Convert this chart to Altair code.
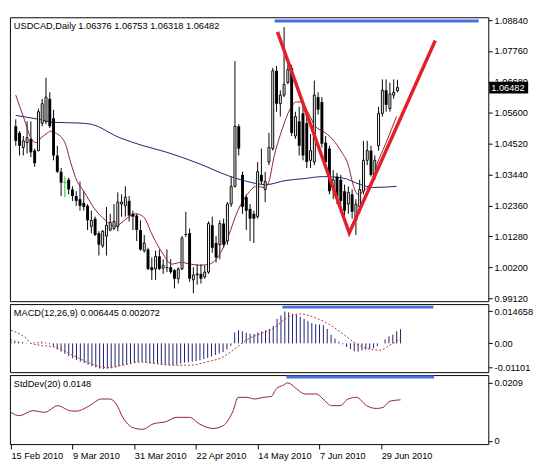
import json
import altair as alt
import pandas as pd

# ---------------- data ----------------
date_idx = [0, 16, 32, 48, 64, 80, 96]
date_labels = ["15 Feb 2010", "9 Mar 2010", "31 Mar 2010", "22 Apr 2010",
               "14 May 2010", "7 Jun 2010", "29 Jun 2010"]

opens = [1.0513, 1.0490, 1.0439, 1.0456, 1.0469, 1.0428, 1.0428, 1.0524, 1.0530, 1.0609,
         1.0541, 1.0411, 1.0354, 1.0316, 1.0326, 1.0292, 1.0269, 1.0258, 1.0245, 1.0235,
         1.0163, 1.0190, 1.0139, 1.0095, 1.0129, 1.0150, 1.0156, 1.0163, 1.0241, 1.0235,
         1.0252, 1.0207, 1.0201, 1.0150, 1.0078, 1.0082, 1.0020, 1.0014, 1.0058, 1.0017,
         1.0020, 1.0020, 1.0010, 0.9980, 1.0014, 1.0136, 1.0139, 0.9976, 0.9993, 0.9997,
         0.9986, 1.0003, 1.0167, 1.0105, 1.0099, 1.0173, 1.0112, 1.0241, 1.0303, 1.0513,
         1.0343, 1.0265, 1.0224, 1.0207, 1.0197, 1.0343, 1.0292, 1.0388, 1.0435, 1.0707,
         1.0592, 1.0622, 1.0666, 1.0717, 1.0479, 1.0530, 1.0558, 1.0524, 1.0394, 1.0388,
         1.0615, 1.0598, 1.0456, 1.0435, 1.0299, 1.0337, 1.0326, 1.0286, 1.0241, 1.0275,
         1.0184, 1.0231, 1.0286, 1.0394, 1.0428, 1.0343, 1.0445, 1.0558, 1.0639, 1.0575,
         1.0622, 1.06376]
highs = [1.0537, 1.0496, 1.0479, 1.0530, 1.0530, 1.0435, 1.0575, 1.0609, 1.0683, 1.0632,
         1.0571, 1.0445, 1.0367, 1.0337, 1.0333, 1.0303, 1.0286, 1.0320, 1.0286, 1.0241,
         1.0218, 1.0197, 1.0146, 1.0150, 1.0231, 1.0207, 1.0241, 1.0282, 1.0275, 1.0303,
         1.0269, 1.0218, 1.0207, 1.0184, 1.0133, 1.0088, 1.0054, 1.0078, 1.0082, 1.0048,
         1.0082, 1.0048, 1.0014, 1.0020, 1.0129, 1.0214, 1.0156, 1.0020, 1.0031, 1.0031,
         1.0027, 1.0180, 1.0197, 1.0129, 1.0184, 1.0190, 1.0248, 1.0337, 1.0741, 1.0520,
         1.0354, 1.0275, 1.0241, 1.0218, 1.0388, 1.0435, 1.0354, 1.0490, 1.0717, 1.0724,
         1.0639, 1.0860, 1.0728, 1.0728, 1.0564, 1.0581, 1.0598, 1.0547, 1.0486, 1.0673,
         1.0632, 1.0615, 1.0479, 1.0445, 1.0360, 1.0350, 1.0343, 1.0309, 1.0303, 1.0292,
         1.0258, 1.0326, 1.0462, 1.0462, 1.0445, 1.0411, 1.0581, 1.0677, 1.0677, 1.0666,
         1.0677, 1.06753]
lows = [1.0445, 1.0411, 1.0411, 1.0418, 1.0405, 1.0371, 1.0425, 1.0513, 1.0520, 1.0507,
        1.0394, 1.0350, 1.0269, 1.0265, 1.0275, 1.0252, 1.0235, 1.0218, 1.0218, 1.0150,
        1.0139, 1.0129, 1.0061, 1.0088, 1.0061, 1.0146, 1.0150, 1.0146, 1.0197, 1.0197,
        1.0180, 1.0150, 1.0112, 1.0078, 1.0071, 1.0010, 0.9976, 0.9976, 1.0010, 0.9997,
        1.0003, 0.9997, 0.9946, 0.9963, 1.0010, 1.0126, 0.9969, 0.9929, 0.9959, 0.9963,
        0.9980, 0.9997, 1.0071, 1.0037, 1.0048, 1.0088, 1.0099, 1.0231, 1.0299, 1.0411,
        1.0207, 1.0150, 1.0112, 1.0105, 1.0190, 1.0309, 1.0248, 1.0377, 1.0428, 1.0564,
        1.0547, 1.0615, 1.0660, 1.0479, 1.0469, 1.0411, 1.0394, 1.0367, 1.0367, 1.0377,
        1.0554, 1.0439, 1.0360, 1.0275, 1.0258, 1.0241, 1.0224, 1.0201, 1.0207, 1.0190,
        1.0133, 1.0207, 1.0275, 1.0377, 1.0337, 1.0326, 1.0428, 1.0547, 1.0564, 1.0564,
        1.0609, 1.06318]
closes = [1.0462, 1.0445, 1.0462, 1.0473, 1.0422, 1.0384, 1.0564, 1.0592, 1.0615, 1.0513,
          1.0411, 1.0354, 1.0316, 1.0316, 1.0292, 1.0269, 1.0252, 1.0235, 1.0231, 1.0184,
          1.0184, 1.0133, 1.0099, 1.0146, 1.0167, 1.0177, 1.0180, 1.0248, 1.0248, 1.0265,
          1.0201, 1.0197, 1.0150, 1.0082, 1.0105, 1.0014, 1.0010, 1.0058, 1.0014, 1.0027,
          1.0017, 1.0003, 0.9980, 1.0014, 1.0122, 1.0133, 0.9980, 0.9993, 0.9997, 0.9980,
          1.0003, 1.0173, 1.0088, 1.0054, 1.0173, 1.0099, 1.0241, 1.0303, 1.0513, 1.0435,
          1.0231, 1.0218, 1.0190, 1.0190, 1.0354, 1.0320, 1.0320, 1.0439, 1.0707, 1.0592,
          1.0622, 1.0660, 1.0711, 1.0490, 1.0547, 1.0445, 1.0411, 1.0388, 1.0428, 1.0622,
          1.0571, 1.0452, 1.0388, 1.0286, 1.0326, 1.0265, 1.0252, 1.0218, 1.0282, 1.0214,
          1.0241, 1.0292, 1.0394, 1.0428, 1.0343, 1.0394, 1.0558, 1.0639, 1.0588, 1.0626,
          1.0632, 1.06482]

# moving averages
red_ma_i = [0, 2, 4.5, 5.5, 6.75, 8, 9.25, 10.5, 13, 14.5, 16.25, 18, 20.5, 23.75, 26.25,
            28.75, 30.5, 31.75, 33.75, 36.25, 38.75, 41.25, 43.75, 46.25, 48.75, 51.25,
            53.75, 56.25, 58.75, 61.25, 63.75, 65.75, 67, 68.25, 70.5, 72.5, 74.25, 75.5,
            77.5, 79.25, 81.25, 83.75, 86.25, 88, 89.25, 90.5, 92, 94.25, 95.5, 98, 100.75]
red_ma_v = [1.0622, 1.0547, 1.0462, 1.0456, 1.0473, 1.0486, 1.0496, 1.0490, 1.0456, 1.0388,
            1.0320, 1.0286, 1.0231, 1.0184, 1.0163, 1.0184, 1.0201, 1.0207, 1.0197, 1.0129,
            1.0071, 1.0031, 1.0037, 1.0031, 1.0027, 1.0031, 1.0061, 1.0129, 1.0218, 1.0275,
            1.0303, 1.0299, 1.0320, 1.0401, 1.0503, 1.0571, 1.0598, 1.0598, 1.0558, 1.0513,
            1.0496, 1.0469, 1.0422, 1.0377, 1.0309, 1.0275, 1.0286, 1.0326, 1.0377, 1.0456,
            1.0547]
blue_ma_i = [0, 6.25, 10, 17.5, 20, 27.5, 33.75, 40, 48.75, 56.25, 61.25, 66.25, 71.25,
             76.25, 81.25, 86.25, 91.25, 94.5, 100.75]
blue_ma_v = [1.0551, 1.0537, 1.0527, 1.0524, 1.0520, 1.0473, 1.0445, 1.0422, 1.0381, 1.0340,
             1.0320, 1.0309, 1.0323, 1.0330, 1.0337, 1.0333, 1.0309, 1.0299, 1.0303]

# MACD histogram (one per bar) and signal samples
macd = [0.0020, 0.0013, 0.0009, 0.0006, 0.0002, -0.0002, 0.0004, 0.0006, 0.0008, 0.0004,
        -0.0004, -0.0014, -0.0028, -0.0038, -0.0048, -0.0058, -0.0068, -0.0076, -0.0083, -0.0090,
        -0.0098, -0.0105, -0.0110, -0.0115, -0.0117, -0.0116, -0.0114, -0.0110, -0.0105, -0.0100,
        -0.0095, -0.0091, -0.0088, -0.0085, -0.0084, -0.0087, -0.0090, -0.0092, -0.0094, -0.0096,
        -0.0098, -0.0099, -0.0100, -0.0097, -0.0092, -0.0088, -0.0086, -0.0084, -0.0081, -0.0077,
        -0.0072, -0.0066, -0.0060, -0.0053, -0.0046, -0.0039, -0.0028, -0.0012, 0.0050, 0.0060,
        0.0055, 0.0048, 0.0044, 0.0043, 0.0050, 0.0055, 0.0060, 0.0066, 0.0080, 0.0112,
        0.0128, 0.0146, 0.0142, 0.0135, 0.0130, 0.0122, 0.0112, 0.0102, 0.0093, 0.0088,
        0.0086, 0.0083, 0.0066, 0.0040, 0.0022, 0.0008, -0.0004, -0.0016, -0.0026, -0.0036,
        -0.0038, -0.0032, -0.0028, -0.0026, -0.0022, -0.0012, 0.0000, 0.0018, 0.0032, 0.0040,
        0.0055, 0.006445]
sig_i = [0, 2.2, 4, 5.2, 7.4, 11.7, 16, 20.4, 24.7, 29, 33.4, 37.7, 42, 46.3, 50.7, 55, 57.6,
         61, 64.5, 68, 71.4, 74.9, 79.2, 82.7, 86.1, 88.7, 92.2, 95.6, 98.2, 101]
sig_v = [0.0061, 0.0043, 0.0023, 0.0000, -0.0008, -0.0019, -0.0054, -0.0090, -0.0111, -0.0100,
         -0.0085, -0.0093, -0.0100, -0.0100, -0.0085, -0.0062, -0.0031, 0.0015, 0.0043, 0.0069,
         0.0115, 0.0135, 0.0115, 0.0085, 0.0043, 0.0008, -0.0023, -0.0031, -0.0008, 0.002072]

# StdDev(20) samples
sd_i = [0, 2.2, 5.7, 8.7, 12.2, 15.2, 16.9, 20.4, 23.4, 25.6, 27.3, 29, 31.6, 34.2, 36.8,
        40.3, 42.9, 46.3, 48.9, 52.4, 55, 57.6, 58.9, 61, 63.2, 65.4, 67.5, 68.8, 70.5, 71.8,
        74, 76.2, 79.2, 80.9, 83.1, 85.3, 87.4, 89.6, 92.2, 94.8, 96.5, 98.2, 101]
sd_v = [0.0103, 0.0091, 0.0109, 0.0103, 0.0127, 0.0109, 0.0107, 0.0127, 0.0151, 0.0151,
        0.0133, 0.0085, 0.0048, 0.0042, 0.0061, 0.0070, 0.0085, 0.0085, 0.0061, 0.0045,
        0.0055, 0.0109, 0.0157, 0.0157, 0.0151, 0.0157, 0.0160, 0.0188, 0.0200, 0.0209,
        0.0188, 0.0169, 0.0169, 0.0151, 0.0127, 0.0127, 0.0151, 0.0157, 0.0127, 0.0117,
        0.0121, 0.0143, 0.0148]

# hand-drawn annotations (in bar index / value units)
v_i = [69.25, 88.25, 111.0]
v_p = [1.0843, 1.0140, 1.0813]
top_line = {"a": [68.5], "b": [122.5], "v": [1.0881]}
macd_line = {"a": [70.4], "b": [109.5], "v": [0.0166]}
sd_line = {"a": [71.4], "b": [109.7], "v": [0.0230]}

price_ticks = [0.99120, 1.00200, 1.01280, 1.02360, 1.03440, 1.04520,
               1.05600, 1.06680, 1.07760, 1.08840]
macd_ticks = [0.014658, 0.0, -0.01101]
macd_tick_labels = ["0.014658", "0.00", "-0.01101"]
sd_ticks = [0.0209, 0.0]
sd_tick_labels = ["0.0209", "0"]

symbol = "USDCAD,Daily"
macd_title = "MACD(12,26,9) 0.006445 0.002072"
sd_title = "StdDev(20) 0.0148"

# ---------------- styling ----------------
FONT = "Liberation Sans"
FS = 9.5
W = 492
H_MAIN, H_MACD, H_SD = 292, 70, 71
NAVY = "#1c1c6e"
MAROON = "#8e1f2a"
RED = "#e3202a"
BLUE = "#4a6ee0"
GREEN = "#1fbf1f"

n = len(opens)
idx = list(range(n))
bars = pd.DataFrame({"i": idx, "o": opens, "h": highs, "l": lows, "c": closes})
bars["kind"] = ["up" if c > o else ("down" if c < o else "doji") for o, c in zip(opens, closes)]

xscale = alt.Scale(domain=[-0.25, 123.75], nice=False, zero=False)


def X(field="i", axis=None):
    return alt.X(f"{field}:Q", scale=xscale, axis=axis, title=None)


price_scale = alt.Scale(domain=[0.99014, 1.08942], nice=False, zero=False)
price_axis = alt.Axis(orient="right", values=price_ticks, format=".5f", tickSize=4,
                      labelPadding=2, grid=False, domain=False, title=None)


def PY(field):
    return alt.Y(f"{field}:Q", scale=price_scale, axis=price_axis, title=None)


base = alt.Chart(bars)
wicks = base.transform_filter("datum.kind != 'doji'").mark_rule(
    color="black", strokeWidth=1).encode(x=X(), y=PY("l"), y2="h:Q")
doji_wicks = base.transform_filter("datum.kind == 'doji'").mark_rule(
    color=GREEN, strokeWidth=1).encode(x=X(), y=PY("l"), y2="h:Q")
doji_body = base.transform_filter("datum.kind == 'doji'").mark_tick(
    orient="horizontal", color=GREEN, size=4, thickness=1).encode(x=X(), y=PY("o"))
down_body = base.transform_filter("datum.kind == 'down'").mark_bar(
    size=3, color="black").encode(x=X(), y=PY("o"), y2="c:Q")
up_body = base.transform_filter("datum.kind == 'up'").mark_bar(
    size=2, fill="white", stroke="black", strokeWidth=1).encode(x=X(), y=PY("o"), y2="c:Q")

red_ma = alt.Chart(pd.DataFrame({"i": red_ma_i, "v": red_ma_v})).mark_line(
    color=MAROON, strokeWidth=1, interpolate="monotone").encode(x=X(), y=PY("v"))
blue_ma = alt.Chart(pd.DataFrame({"i": blue_ma_i, "v": blue_ma_v})).mark_line(
    color=NAVY, strokeWidth=1, interpolate="monotone").encode(x=X(), y=PY("v"))

v_shape = alt.Chart(pd.DataFrame({"i": v_i, "v": v_p})).mark_line(
    color=RED, strokeWidth=3.5, strokeJoin="miter").encode(x=X(), y=PY("v"))
top_rule = alt.Chart(pd.DataFrame(top_line)).mark_rule(
    color=BLUE, strokeWidth=3).encode(x=X("a"), x2="b:Q", y=PY("v"))

last = pd.DataFrame({"c": [closes[-1]], "t": [f"{closes[-1]:.5f}"]})
price_box = alt.Chart(last).mark_point(
    shape="M-1,-0.3H1V0.3H-1Z", size=1600, filled=True, color="black", opacity=1
).encode(x=alt.value(W + 21), y=PY("c"))
price_txt = alt.Chart(last).mark_text(
    align="left", baseline="middle", color="white", font=FONT, fontSize=FS
).encode(x=alt.value(W + 3), y=PY("c"), text="t:N")

main_title = alt.Chart(pd.DataFrame({"t": [
    f"{symbol}  {opens[-1]:.5f} {highs[-1]:.5f} {lows[-1]:.5f} {closes[-1]:.5f}"]})).mark_text(
    align="left", baseline="middle", color="black", font=FONT, fontSize=FS
).encode(x=alt.value(4), y=alt.value(9), text="t:N")

main = alt.layer(wicks, doji_wicks, blue_ma, red_ma, down_body, up_body, doji_body,
                 top_rule, v_shape, main_title, price_box, price_txt
                 ).properties(width=W, height=H_MAIN)

# ---------------- MACD panel ----------------
macd_scale = alt.Scale(domain=[-0.01317, 0.01798], nice=False, zero=False)
macd_axis = alt.Axis(orient="right", values=macd_ticks, tickSize=4, labelPadding=2,
                     grid=False, domain=False, title=None,
                     labelExpr=f"{json.dumps(macd_tick_labels)}[indexof({json.dumps(macd_ticks)}, datum.value)]")


def MY(field):
    return alt.Y(f"{field}:Q", scale=macd_scale, axis=macd_axis, title=None)


hist = alt.Chart(pd.DataFrame({"i": idx, "m": macd})).mark_rule(
    color=NAVY, strokeWidth=1).encode(x=X(), y=MY("m"), y2=alt.datum(0))
signal = alt.Chart(pd.DataFrame({"i": sig_i, "v": sig_v})).mark_line(
    color="#c0303a", strokeWidth=1, strokeDash=[2, 2], interpolate="monotone"
).encode(x=X(), y=MY("v"))
macd_rule = alt.Chart(pd.DataFrame(macd_line)).mark_rule(
    color=BLUE, strokeWidth=3).encode(x=X("a"), x2="b:Q", y=MY("v"))
macd_txt = alt.Chart(pd.DataFrame({"t": [macd_title]})).mark_text(
    align="left", baseline="middle", color="black", font=FONT, fontSize=FS
).encode(x=alt.value(4), y=alt.value(9), text="t:N")

macd_panel = alt.layer(hist, signal, macd_rule, macd_txt).properties(width=W, height=H_MACD)

# ---------------- StdDev panel ----------------
sd_scale = alt.Scale(domain=[-0.00112, 0.0237], nice=False, zero=False)
sd_axis = alt.Axis(orient="right", values=sd_ticks, tickSize=4, labelPadding=2,
                   grid=False, domain=False, title=None,
                   labelExpr=f"{json.dumps(sd_tick_labels)}[indexof({json.dumps(sd_ticks)}, datum.value)]")
date_axis = alt.Axis(values=date_idx, tickSize=5, labelPadding=2, labelAlign="left",
                     labelFlush=False, grid=False, domain=False, title=None,
                     labelExpr=f"{json.dumps(date_labels)}[indexof({json.dumps(date_idx)}, datum.value)]")


def SY(field):
    return alt.Y(f"{field}:Q", scale=sd_scale, axis=sd_axis, title=None)


sd = alt.Chart(pd.DataFrame({"i": sd_i, "v": sd_v})).mark_line(
    color=MAROON, strokeWidth=1, interpolate="monotone").encode(x=X(axis=date_axis), y=SY("v"))
sd_rule = alt.Chart(pd.DataFrame(sd_line)).mark_rule(
    color=BLUE, strokeWidth=3).encode(x=X("a", axis=date_axis), x2="b:Q", y=SY("v"))
sd_txt = alt.Chart(pd.DataFrame({"t": [sd_title]})).mark_text(
    align="left", baseline="middle", color="black", font=FONT, fontSize=FS
).encode(x=alt.value(4), y=alt.value(9), text="t:N")

sd_panel = alt.layer(sd, sd_rule, sd_txt).properties(width=W, height=H_SD)

chart = alt.vconcat(main, macd_panel, sd_panel, spacing=3).properties(
    padding=0, bounds="flush"
).configure_view(
    stroke="black", strokeWidth=1
).configure_axis(
    labelFont=FONT, labelFontSize=FS, labelColor="black", tickColor="black", tickWidth=1
)

chart.save("out.html", embed_options={"renderer": "svg", "actions": False})
